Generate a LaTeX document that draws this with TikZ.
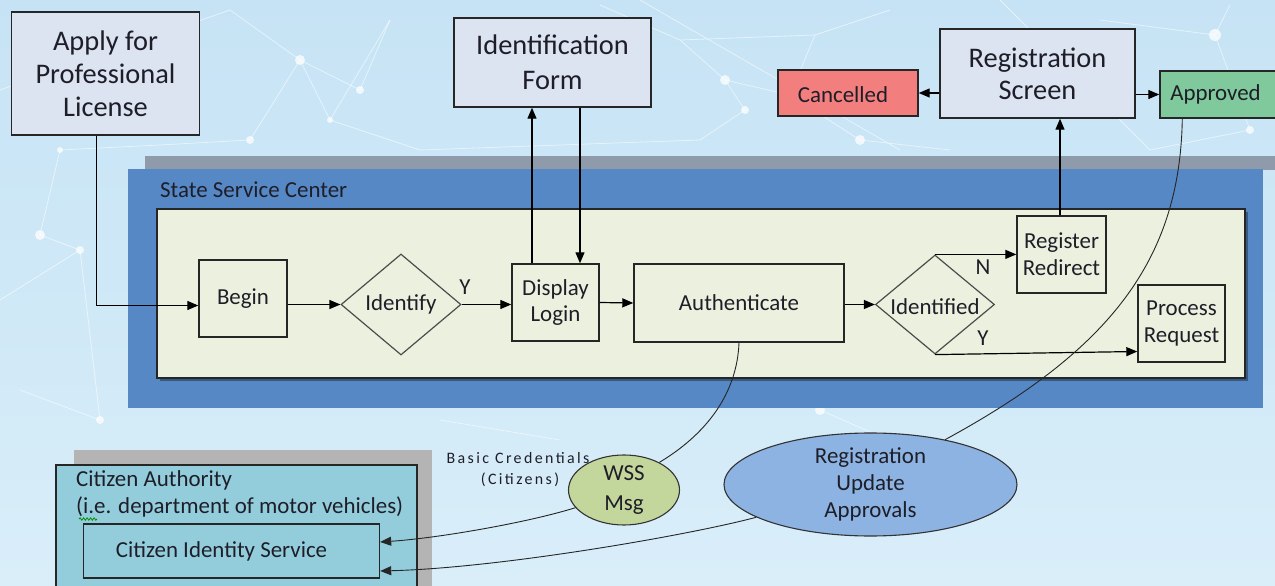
\documentclass[tikz,border=0pt]{standalone}
\usepackage{fontspec}
\setmainfont{Carlito}
\newfontfamily\credfont[LetterSpace=15]{Carlito}
\usetikzlibrary{arrows.meta,shapes.geometric,decorations.pathmorphing}

\definecolor{skytop}{HTML}{C6E3F5}
\definecolor{skybottom}{HTML}{D9EEF9}
\definecolor{boxfill}{HTML}{DCE3F1}
\definecolor{stateblue}{HTML}{5688C6}
\definecolor{stategray}{HTML}{8F9BAA}
\definecolor{panelfill}{HTML}{EBF1DE}
\definecolor{cancelfill}{HTML}{F27E7E}
\definecolor{approvefill}{HTML}{80C99C}
\definecolor{citizenfill}{HTML}{93CDDC}
\definecolor{citizengray}{HTML}{B4B4B4}
\definecolor{wssfill}{HTML}{C3D69B}
\definecolor{updatefill}{HTML}{8DB3E2}
\definecolor{textdark}{HTML}{1E1E28}

\tikzset{
  bigfont/.style={font=\fontsize{28.5}{33}\selectfont},
  midfont/.style={font=\fontsize{23}{27}\selectfont},
  screenbox/.style={draw=black!85, line width=1.4bp, fill=boxfill, align=center,
    inner sep=0pt, text=textdark, bigfont},
  statusbox/.style={draw=black!85, line width=1.4bp, inner sep=0pt, text=textdark, midfont},
  stepbox/.style={draw=black!85, line width=1.4bp, fill=panelfill, align=center,
    inner sep=0pt, text=textdark, midfont},
  decision/.style={diamond, draw=black!70, line width=1.2bp, fill=panelfill, inner sep=0pt},
  bubble/.style={ellipse, draw=black!80, line width=1.1bp, inner sep=0pt},
  caption/.style={text=textdark, midfont, inner sep=0pt},
  link/.style={draw=black, line width=1.2bp},
  flow/.style={link, -{Triangle[length=11bp,width=9bp]}},
  wire/.style={draw=black!85, line width=0.9bp},
  wireflow/.style={wire, -{Triangle[length=11bp,width=9bp]}},
  netline/.style={draw=white, line width=0.8bp, opacity=0.55},
  netdot/.style={fill=white, opacity=0.75},
}

\begin{document}
\begin{tikzpicture}[x=1bp,y=-1bp]
\useasboundingbox (0,0) rectangle (1275,586);
\shade[top color=skytop, bottom color=skybottom] (0,0) rectangle (1275,586);

% faint network texture in the background
\foreach \p/\q in {{(230,10)}/{(300,60)}, {(300,60)}/{(250,140)}, {(300,60)}/{(330,120)},
  {(330,120)}/{(390,20)}, {(330,120)}/{(420,150)}, {(390,20)}/{(360,90)}, {(360,90)}/{(300,60)},
  {(680,40)}/{(725,80)}, {(725,80)}/{(745,110)}, {(725,80)}/{(790,95)}, {(790,95)}/{(815,35)},
  {(815,35)}/{(680,40)}, {(745,110)}/{(700,140)}, {(790,95)}/{(860,140)}, {(890,10)}/{(815,35)},
  {(1100,20)}/{(1215,35)}, {(1215,35)}/{(1250,130)}, {(1250,130)}/{(1150,150)},
  {(1215,35)}/{(1230,5)}, {(80,250)}/{(40,235)}, {(40,235)}/{(60,150)}, {(80,250)}/{(100,420)},
  {(20,390)}/{(100,420)}, {(600,5)}/{(680,40)}, {(860,140)}/{(950,150)}, {(250,140)}/{(160,145)},
  {(160,145)}/{(60,150)}, {(420,150)}/{(700,140)}, {(640,0)}/{(900,150)}, {(0,90)}/{(230,10)},
  {(1000,0)}/{(1150,150)}, {(0,300)}/{(80,250)}, {(440,420)}/{(560,440)}, {(820,410)}/{(900,445)}}
  \draw[netline] \p -- \q;
\foreach \c/\r in {{(300,60)}/5, {(250,140)}/4, {(725,80)}/5, {(790,95)}/6, {(745,110)}/4,
  {(1215,35)}/6, {(80,250)}/4, {(40,235)}/5, {(100,420)}/4, {(330,120)}/3, {(360,90)}/4,
  {(1250,130)}/4, {(860,140)}/5, {(820,410)}/5, {(60,150)}/3}
  \fill[netdot] \c circle (\r);

% State Service Center
\fill[stategray] (145,156) rectangle (1275,170);
\node[fill=stateblue, inner sep=0pt, minimum width=1135bp, minimum height=239bp]
  (state) at (695.5,288.5) {};
\node[anchor=west, caption] (statelabel) at (160,190) {State Service Center};
\fill[black, opacity=0.35] (160,212) rectangle (1248,381);
\node[draw=black!85, line width=1.4bp, fill=panelfill, inner sep=0pt,
  minimum width=1088bp, minimum height=169bp] (panel) at (701,293.5) {};

% screens above the service center
\node[screenbox, minimum width=188bp, minimum height=123bp] (apply) at (105.5,73.5)
  {Apply for\\Professional\\License};
\node[screenbox, font=\fontsize{28.5}{35}\selectfont, minimum width=197bp, minimum height=89bp]
  (idform) at (552.5,62.5) {Identification\\Form};
\node[screenbox, font=\fontsize{28.5}{32}\selectfont, minimum width=195bp, minimum height=89bp]
  (regscreen) at (1037.5,73.5) {Registration\\Screen};
\node[statusbox, fill=cancelfill, minimum width=140bp, minimum height=46bp,
  label={[caption, xshift=-5bp, yshift=-2bp]center:Cancelled}] (cancelled) at (848,93) {};
\node[statusbox, fill=approvefill, minimum width=125bp, minimum height=47bp,
  label={[caption, xshift=-7bp]center:Approved}] (approved) at (1222.5,94.5) {};

% process steps
\node[stepbox, minimum width=88bp, minimum height=77bp] (begin) at (243,298.5) {Begin};
\node[decision, minimum width=120bp, minimum height=101bp,
  label={[caption]center:Identify}] (identify) at (401,304.5) {};
\node[stepbox, minimum width=87bp, minimum height=77bp] (login) at (555.5,302.5)
  {Display\\Login};
\node[stepbox, minimum width=210bp, minimum height=78bp] (auth) at (739,303)
  {Authenticate};
\node[decision, minimum width=119bp, minimum height=99bp,
  label={[caption, yshift=-2bp]center:Identified}] (identified) at (935,304.5) {};
\node[stepbox, minimum width=89bp, minimum height=77bp] (redirect) at (1061.5,254.5)
  {Register\\Redirect};
\node[stepbox, minimum width=87bp, minimum height=77bp] (process) at (1181.5,323.5)
  {Process\\Request};

% citizen authority
\fill[citizengray] (74,450) rectangle (432,600);
\node[draw=black!85, line width=1.4bp, fill=citizenfill, inner sep=0pt,
  minimum width=361bp, minimum height=135bp] (authority) at (236.5,532.5) {};
\node[anchor=west, caption] (authname) at (76,480) {Citizen Authority};
\node[anchor=west, caption] (authnote) at (76,507) {(i.e. department of motor vehicles)};
\draw[green!55!black, line width=0.8bp, decorate,
  decoration={snake, amplitude=1.2bp, segment length=3.5bp}] (79,519) -- (97,519);
\node[draw=black!85, line width=1.4bp, inner sep=0pt, minimum width=296bp,
  minimum height=54bp, label={[caption, xshift=-10bp]center:Citizen Identity Service}]
  (cis) at (231.5,551) {};

% messages
\node[bubble, fill=wssfill, minimum width=111bp, minimum height=70bp,
  label={[caption, font=\fontsize{23}{30}\selectfont, align=center]center:WSS\\Msg}]
  (wss) at (624,490) {};
\node[bubble, fill=updatefill, minimum width=293bp, minimum height=103bp,
  label={[caption, font=\fontsize{23}{27.5}\selectfont, align=center]center:Registration\\Update\\Approvals}]
  (update) at (870.5,484.5) {};
\node[text=textdark, font=\credfont\fontsize{16}{20}\selectfont, inner sep=0pt]
  (credlabel) at (518,458) {Basic Credentials};
\node[text=textdark, font=\credfont\fontsize{16}{20}\selectfont, inner sep=0pt]
  (citlabel) at (520,480) {(Citizens)};

% flow inside the service center
\draw[flow] ([xshift=-9bp]apply.south) |- ([yshift=-7bp]begin.west);
\draw[flow] (begin.east |- identify.west) -- (identify.west);
\draw[flow] (identify.east) -- (identify.east -| login.west);
\draw[flow] (login.east) -- (auth.west);
\draw[flow] (auth.east |- identified.west) -- (identified.west);
\draw[flow] (identified.north) -- (identified.north -| redirect.west);
\draw[flow] (identified.south) -- ([yshift=-28bp]process.west);
\node[caption] (ylabel1) at (465,287) {Y};
\node[caption] (nlabel) at (983,267) {N};
\node[caption] (ylabel2) at (983,338) {Y};

% links to the screens
\draw[flow] ([xshift=-23.5bp]login.north) -- ([xshift=-23.5bp]login.north |- idform.south);
\draw[flow] ([xshift=24.5bp]login.north |- idform.south) -- ([xshift=24.5bp]login.north);
\draw[flow] ([xshift=-1.5bp]redirect.north) -- ([xshift=-1.5bp]redirect.north |- regscreen.south);
\draw[flow] (regscreen.west |- cancelled.east) -- (cancelled.east);
\draw[flow] (regscreen.east |- approved.west) -- (approved.west);

% message flows
\draw[wire] (auth.south) .. controls (737,395) and (705,435) .. (wss.38);
\draw[wireflow] (wss.200) .. controls (530,522) and (440,538) .. ([yshift=9bp]cis.east);
\draw[wire] ([xshift=23bp]approved.south west) .. controls (1180,260) and (1110,350) .. (update.31);
\draw[wireflow] (update.196) .. controls (690,535) and (500,568) .. ([yshift=-20bp]cis.east);
\end{tikzpicture}
\end{document}
